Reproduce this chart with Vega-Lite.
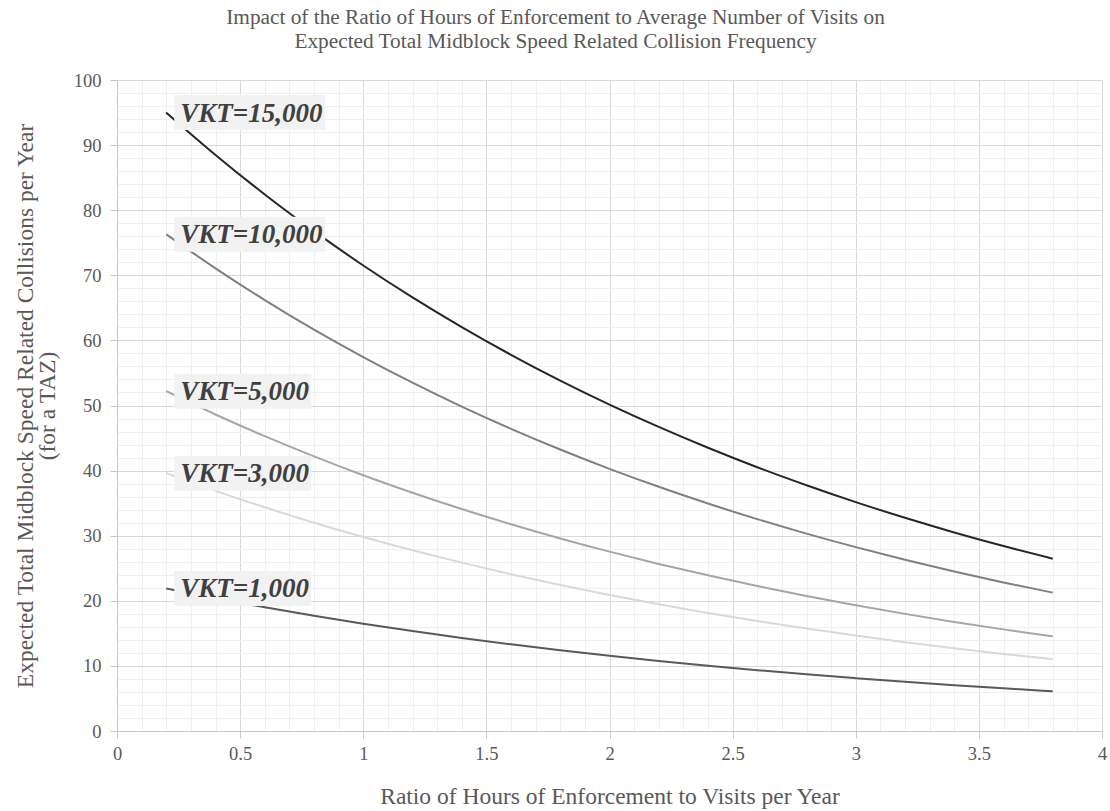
{
  "$schema": "https://vega.github.io/schema/vega-lite/v6.json",
  "width": 985,
  "height": 651,
  "autosize": "none",
  "padding": {"left": 117, "top": 80, "right": 8, "bottom": 80},
  "background": "white",
  "config": {
    "font": "Liberation Serif",
    "view": {"stroke": null}
  },
  "title": {
    "text": [
      "Impact of the Ratio of Hours of Enforcement to Average Number of Visits on",
      "Expected Total Midblock Speed Related Collision Frequency"
    ],
    "font": "Liberation Serif",
    "fontSize": 21.3,
    "fontWeight": "normal",
    "color": "#595959",
    "anchor": "middle",
    "dx": -54,
    "offset": 19,
    "lineHeight": 24
  },
  "data": {
    "values": [
      {"series": "VKT=15,000", "ratio": 0.2, "collisions": 95.0},
      {"series": "VKT=15,000", "ratio": 0.4, "collisions": 88.49},
      {"series": "VKT=15,000", "ratio": 0.6, "collisions": 82.42},
      {"series": "VKT=15,000", "ratio": 0.8, "collisions": 76.78},
      {"series": "VKT=15,000", "ratio": 1.0, "collisions": 71.51},
      {"series": "VKT=15,000", "ratio": 1.2, "collisions": 66.61},
      {"series": "VKT=15,000", "ratio": 1.4, "collisions": 62.05},
      {"series": "VKT=15,000", "ratio": 1.6, "collisions": 57.79},
      {"series": "VKT=15,000", "ratio": 1.8, "collisions": 53.83},
      {"series": "VKT=15,000", "ratio": 2.0, "collisions": 50.14},
      {"series": "VKT=15,000", "ratio": 2.2, "collisions": 46.71},
      {"series": "VKT=15,000", "ratio": 2.4, "collisions": 43.51},
      {"series": "VKT=15,000", "ratio": 2.6, "collisions": 40.52},
      {"series": "VKT=15,000", "ratio": 2.8, "collisions": 37.75},
      {"series": "VKT=15,000", "ratio": 3.0, "collisions": 35.16},
      {"series": "VKT=15,000", "ratio": 3.2, "collisions": 32.75},
      {"series": "VKT=15,000", "ratio": 3.4, "collisions": 30.50},
      {"series": "VKT=15,000", "ratio": 3.6, "collisions": 28.41},
      {"series": "VKT=15,000", "ratio": 3.8, "collisions": 26.47},

      {"series": "VKT=10,000", "ratio": 0.2, "collisions": 76.3},
      {"series": "VKT=10,000", "ratio": 0.4, "collisions": 71.07},
      {"series": "VKT=10,000", "ratio": 0.6, "collisions": 66.20},
      {"series": "VKT=10,000", "ratio": 0.8, "collisions": 61.66},
      {"series": "VKT=10,000", "ratio": 1.0, "collisions": 57.44},
      {"series": "VKT=10,000", "ratio": 1.2, "collisions": 53.50},
      {"series": "VKT=10,000", "ratio": 1.4, "collisions": 49.83},
      {"series": "VKT=10,000", "ratio": 1.6, "collisions": 46.42},
      {"series": "VKT=10,000", "ratio": 1.8, "collisions": 43.24},
      {"series": "VKT=10,000", "ratio": 2.0, "collisions": 40.27},
      {"series": "VKT=10,000", "ratio": 2.2, "collisions": 37.51},
      {"series": "VKT=10,000", "ratio": 2.4, "collisions": 34.94},
      {"series": "VKT=10,000", "ratio": 2.6, "collisions": 32.55},
      {"series": "VKT=10,000", "ratio": 2.8, "collisions": 30.32},
      {"series": "VKT=10,000", "ratio": 3.0, "collisions": 28.24},
      {"series": "VKT=10,000", "ratio": 3.2, "collisions": 26.30},
      {"series": "VKT=10,000", "ratio": 3.4, "collisions": 24.50},
      {"series": "VKT=10,000", "ratio": 3.6, "collisions": 22.82},
      {"series": "VKT=10,000", "ratio": 3.8, "collisions": 21.26},

      {"series": "VKT=5,000", "ratio": 0.2, "collisions": 52.2},
      {"series": "VKT=5,000", "ratio": 0.4, "collisions": 48.62},
      {"series": "VKT=5,000", "ratio": 0.6, "collisions": 45.29},
      {"series": "VKT=5,000", "ratio": 0.8, "collisions": 42.19},
      {"series": "VKT=5,000", "ratio": 1.0, "collisions": 39.29},
      {"series": "VKT=5,000", "ratio": 1.2, "collisions": 36.60},
      {"series": "VKT=5,000", "ratio": 1.4, "collisions": 34.09},
      {"series": "VKT=5,000", "ratio": 1.6, "collisions": 31.76},
      {"series": "VKT=5,000", "ratio": 1.8, "collisions": 29.58},
      {"series": "VKT=5,000", "ratio": 2.0, "collisions": 27.55},
      {"series": "VKT=5,000", "ratio": 2.2, "collisions": 25.66},
      {"series": "VKT=5,000", "ratio": 2.4, "collisions": 23.91},
      {"series": "VKT=5,000", "ratio": 2.6, "collisions": 22.27},
      {"series": "VKT=5,000", "ratio": 2.8, "collisions": 20.74},
      {"series": "VKT=5,000", "ratio": 3.0, "collisions": 19.32},
      {"series": "VKT=5,000", "ratio": 3.2, "collisions": 17.99},
      {"series": "VKT=5,000", "ratio": 3.4, "collisions": 16.76},
      {"series": "VKT=5,000", "ratio": 3.6, "collisions": 15.61},
      {"series": "VKT=5,000", "ratio": 3.8, "collisions": 14.54},

      {"series": "VKT=3,000", "ratio": 0.2, "collisions": 39.6},
      {"series": "VKT=3,000", "ratio": 0.4, "collisions": 36.89},
      {"series": "VKT=3,000", "ratio": 0.6, "collisions": 34.36},
      {"series": "VKT=3,000", "ratio": 0.8, "collisions": 32.00},
      {"series": "VKT=3,000", "ratio": 1.0, "collisions": 29.81},
      {"series": "VKT=3,000", "ratio": 1.2, "collisions": 27.77},
      {"series": "VKT=3,000", "ratio": 1.4, "collisions": 25.86},
      {"series": "VKT=3,000", "ratio": 1.6, "collisions": 24.09},
      {"series": "VKT=3,000", "ratio": 1.8, "collisions": 22.44},
      {"series": "VKT=3,000", "ratio": 2.0, "collisions": 20.90},
      {"series": "VKT=3,000", "ratio": 2.2, "collisions": 19.47},
      {"series": "VKT=3,000", "ratio": 2.4, "collisions": 18.13},
      {"series": "VKT=3,000", "ratio": 2.6, "collisions": 16.89},
      {"series": "VKT=3,000", "ratio": 2.8, "collisions": 15.73},
      {"series": "VKT=3,000", "ratio": 3.0, "collisions": 14.66},
      {"series": "VKT=3,000", "ratio": 3.2, "collisions": 13.65},
      {"series": "VKT=3,000", "ratio": 3.4, "collisions": 12.72},
      {"series": "VKT=3,000", "ratio": 3.6, "collisions": 11.84},
      {"series": "VKT=3,000", "ratio": 3.8, "collisions": 11.03},

      {"series": "VKT=1,000", "ratio": 0.2, "collisions": 21.9},
      {"series": "VKT=1,000", "ratio": 0.4, "collisions": 20.40},
      {"series": "VKT=1,000", "ratio": 0.6, "collisions": 19.00},
      {"series": "VKT=1,000", "ratio": 0.8, "collisions": 17.70},
      {"series": "VKT=1,000", "ratio": 1.0, "collisions": 16.49},
      {"series": "VKT=1,000", "ratio": 1.2, "collisions": 15.36},
      {"series": "VKT=1,000", "ratio": 1.4, "collisions": 14.30},
      {"series": "VKT=1,000", "ratio": 1.6, "collisions": 13.32},
      {"series": "VKT=1,000", "ratio": 1.8, "collisions": 12.41},
      {"series": "VKT=1,000", "ratio": 2.0, "collisions": 11.56},
      {"series": "VKT=1,000", "ratio": 2.2, "collisions": 10.77},
      {"series": "VKT=1,000", "ratio": 2.4, "collisions": 10.03},
      {"series": "VKT=1,000", "ratio": 2.6, "collisions": 9.34},
      {"series": "VKT=1,000", "ratio": 2.8, "collisions": 8.70},
      {"series": "VKT=1,000", "ratio": 3.0, "collisions": 8.11},
      {"series": "VKT=1,000", "ratio": 3.2, "collisions": 7.55},
      {"series": "VKT=1,000", "ratio": 3.4, "collisions": 7.03},
      {"series": "VKT=1,000", "ratio": 3.6, "collisions": 6.55},
      {"series": "VKT=1,000", "ratio": 3.8, "collisions": 6.10}
    ]
  },
  "encoding": {
    "x": {
      "field": "ratio",
      "type": "quantitative",
      "scale": {"domain": [0, 4], "nice": false, "zero": true},
      "axis": {
        "title": "Ratio of Hours of Enforcement to Visits per Year",
        "values": [0, 0.1, 0.2, 0.3, 0.4, 0.5, 0.6, 0.7, 0.8, 0.9, 1, 1.1, 1.2, 1.3, 1.4, 1.5, 1.6, 1.7, 1.8, 1.9, 2, 2.1, 2.2, 2.3, 2.4, 2.5, 2.6, 2.7, 2.8, 2.9, 3, 3.1, 3.2, 3.3, 3.4, 3.5, 3.6, 3.7, 3.8, 3.9, 4],
        "format": "~g",
        "labelExpr": "abs(datum.value * 2 - round(datum.value * 2)) < 1e-6 ? datum.label : ''",
        "grid": true,
        "gridColor": {"condition": {"test": "abs(datum.value * 2 - round(datum.value * 2)) < 1e-6", "value": "#d9d9d9"}, "value": "#f0f0f0"},
        "gridWidth": 1,
        "tickOpacity": {"condition": {"test": "abs(datum.value * 2 - round(datum.value * 2)) < 1e-6", "value": 1}, "value": 0},
        "tickColor": "#c8c8c8",
        "tickSize": 7,
        "domainColor": "#c8c8c8",
        "labelFont": "Liberation Serif",
        "labelFontSize": 18.5,
        "labelColor": "#595959",
        "labelPadding": 6,
        "labelFlush": false,
        "labelOverlap": false,
        "titleFont": "Liberation Serif",
        "titleFontSize": 23.5,
        "titleFontWeight": "normal",
        "titleColor": "#595959",
        "titlePadding": 22
      }
    },
    "y": {
      "field": "collisions",
      "type": "quantitative",
      "scale": {"domain": [0, 100], "nice": false},
      "axis": {
        "title": ["Expected Total Midblock Speed Related Collisions per Year", "(for a TAZ)"],
        "values": [0, 2, 4, 6, 8, 10, 12, 14, 16, 18, 20, 22, 24, 26, 28, 30, 32, 34, 36, 38, 40, 42, 44, 46, 48, 50, 52, 54, 56, 58, 60, 62, 64, 66, 68, 70, 72, 74, 76, 78, 80, 82, 84, 86, 88, 90, 92, 94, 96, 98, 100],
        "format": "d",
        "labelExpr": "datum.value % 10 === 0 ? datum.label : ''",
        "grid": true,
        "gridColor": {"condition": {"test": "datum.value % 10 === 0", "value": "#d9d9d9"}, "value": "#f0f0f0"},
        "gridWidth": 1,
        "tickOpacity": {"condition": {"test": "datum.value % 10 === 0", "value": 1}, "value": 0},
        "tickColor": "#c8c8c8",
        "tickSize": 7,
        "domainColor": "#c8c8c8",
        "labelFont": "Liberation Serif",
        "labelFontSize": 18.5,
        "labelColor": "#595959",
        "labelPadding": 9,
        "labelOverlap": false,
        "titleFont": "Liberation Serif",
        "titleFontSize": 23.5,
        "titleFontWeight": "normal",
        "titleColor": "#595959",
        "titleLineHeight": 22,
        "titlePadding": 14
      }
    }
  },
  "layer": [
    {
      "mark": {"type": "line", "strokeWidth": 2, "interpolate": "monotone"},
      "encoding": {
        "color": {
          "field": "series",
          "type": "nominal",
          "scale": {
            "domain": ["VKT=15,000", "VKT=10,000", "VKT=5,000", "VKT=3,000", "VKT=1,000"],
            "range": ["#262626", "#808080", "#a6a6a6", "#d9d9d9", "#595959"]
          },
          "legend": null
        },
        "detail": {"field": "series"}
      }
    },
    {
      "transform": [{"filter": "datum.ratio === 0.2"}],
      "mark": {"type": "point", "filled": true, "size": 40000, "fill": "#f2f2f2", "fillOpacity": 1, "opacity": 1, "strokeWidth": 0},
      "encoding": {
        "shape": {
          "field": "series",
          "type": "nominal",
          "scale": {
            "domain": ["VKT=15,000", "VKT=10,000", "VKT=5,000", "VKT=3,000", "VKT=1,000"],
            "range": [
              "M0.08,-0.175H1.59V0.175H0.08Z",
              "M0.08,-0.175H1.59V0.175H0.08Z",
              "M0.08,-0.175H1.45V0.175H0.08Z",
              "M0.08,-0.175H1.45V0.175H0.08Z",
              "M0.08,-0.175H1.45V0.175H0.08Z"
            ]
          },
          "legend": null
        }
      }
    },
    {
      "transform": [{"filter": "datum.ratio === 0.2"}],
      "mark": {
        "type": "text",
        "align": "left",
        "baseline": "middle",
        "dx": 14,
        "dy": 1,
        "font": "Liberation Serif",
        "fontSize": 27,
        "fontStyle": "italic",
        "fontWeight": "bold",
        "color": "#404040"
      },
      "encoding": {
        "text": {"field": "series"}
      }
    }
  ]
}
